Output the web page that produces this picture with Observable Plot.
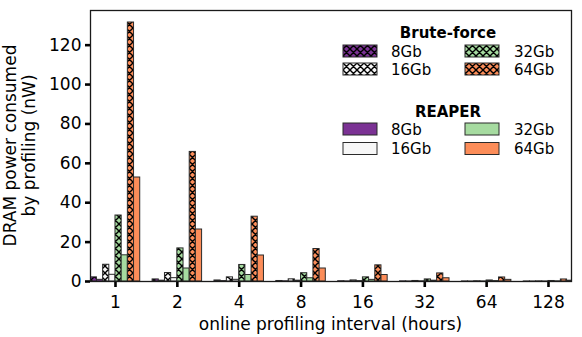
<!DOCTYPE html>
<html><head><meta charset="utf-8">
<script src="https://cdn.jsdelivr.net/npm/d3@7"></script>
<script src="https://cdn.jsdelivr.net/npm/@observablehq/plot@0.6"></script>
<style>
body{margin:0;background:#fff}
#chart{position:relative;width:582px;height:337px}
</style>
</head><body><div id="chart"></div>
<script>
// ---- data ----
const intervals = ["1","2","4","8","16","32","64","128"];      // online profiling interval (hours)
const capacities = ["8Gb","16Gb","32Gb","64Gb"];
const capColors = ["#7b3294","#f7f7f7","#a6dba0","#fc8d59"];
const methods = ["Brute-force","REAPER"];
// DRAM power consumed by profiling (nW)
const bruteForce8  = [2.1, 1.05, 0.52, 0.26, 0.13, 0.07, 0.03, 0.02];
const bruteForce16 = [8.5, 4.3, 2.1, 1.1, 0.55, 0.27, 0.13, 0.07];
const bruteForce32 = [33.5, 16.8, 8.4, 4.2, 2.1, 1.05, 0.52, 0.26];
const bruteForce64 = [131.5, 65.8, 32.9, 16.5, 8.2, 4.1, 2.05, 1.03];
const reaper8  = [0.85, 0.42, 0.21, 0.11, 0.05, 0.03, 0.01, 0.01];
const reaper16 = [3.4, 1.7, 0.85, 0.42, 0.21, 0.11, 0.05, 0.03];
const reaper32 = [13.3, 6.6, 3.3, 1.65, 0.83, 0.41, 0.21, 0.1];
const reaper64 = [52.8, 26.4, 13.2, 6.6, 3.3, 1.65, 0.83, 0.41];
const yTicks = [0, 20, 40, 60, 80, 100, 120];

const series = {
  "Brute-force": [bruteForce8, bruteForce16, bruteForce32, bruteForce64],
  "REAPER": [reaper8, reaper16, reaper32, reaper64]
};

// bars ordered in each group: BF8, R8, BF16, R16, BF32, R32, BF64, R64
const barW = 0.1;
const rows = [];
intervals.forEach((iv, i) => {
  capacities.forEach((cap, c) => {
    methods.forEach((m, k) => {
      const j = c * 2 + k;
      const x1 = i - 4 * barW + j * barW;
      rows.push({
        interval: iv, capacity: cap, method: m,
        x1, x2: x1 + barW, base: 0,
        value: series[m][c][i],
        fill: m === "Brute-force" ? `url(#hatch${c})` : capColors[c]
      });
    });
  });
});

const FONT = "DejaVu Sans";
const chart = Plot.plot({
  width: 582, height: 337,
  marginLeft: 90, marginRight: 11, marginTop: 10, marginBottom: 56,
  style: {fontFamily: FONT, fontSize: "17px", color: "#000", background: "#fff", overflow: "visible"},
  x: {domain: [-0.404, 7.372]},
  y: {domain: [0, 137.6]},
  color: {type: "identity"},
  marks: [
    Plot.rectY(rows, {x1: "x1", x2: "x2", y1: "base", y2: "value", fill: "fill",
      stroke: "#2b2b2b", strokeWidth: 1, clip: true}),
    Plot.axisX({ticks: d3.range(intervals.length), tickFormat: i => intervals[i],
      tickSize: 6, tickPadding: 8, strokeWidth: 2.6, stroke: "#000", label: null}),
    Plot.axisY({ticks: yTicks, tickSize: 5, tickPadding: 4, strokeWidth: 2.6, stroke: "#000", label: null}),
    Plot.frame({stroke: "#1a1a1a", strokeWidth: 1.3})
  ]
});
document.getElementById("chart").appendChild(chart);

// ---- hatch patterns, labels and legend ----
const svg = d3.select(chart);
const defs = svg.insert("defs", ":first-child");
const P = 7;
capColors.forEach((col, c) => {
  const p = defs.append("pattern").attr("id", `hatch${c}`)
    .attr("patternUnits", "userSpaceOnUse").attr("width", P).attr("height", P);
  p.append("rect").attr("width", P).attr("height", P).attr("fill", col);
  p.append("path")
    .attr("d", `M0,0L${P},${P}M${P},0L0,${P}M-1,1L1,-1M${P-1},${P+1}L${P+1},${P-1}M-1,${P-1}L1,${P+1}M${P-1},-1L${P+1},1`)
    .attr("stroke", "#000").attr("stroke-width", 1.4).attr("fill", "none");
});

// axis labels
svg.append("text").attr("x", 330.5).attr("y", 330).attr("text-anchor", "middle")
  .attr("font-family", FONT).attr("font-size", 17).text("online profiling interval (hours)");
const yl = svg.append("text").attr("transform", "translate(0,145.5) rotate(-90)")
  .attr("text-anchor", "middle").attr("font-family", FONT).attr("font-size", 17);
yl.append("tspan").attr("x", 0).attr("y", 16).text("DRAM power consumed");
yl.append("tspan").attr("x", 0).attr("y", 35).text("by profiling (nW)");

// legend
const lg = svg.append("g").attr("font-family", FONT).attr("font-size", 15).attr("text-anchor", "start");
const colX = [343, 465], labX = [391, 514];
const blocks = [
  {title: "Brute-force", titleY: 38, rowsY: [51, 69], hatch: true},
  {title: "REAPER", titleY: 116.5, rowsY: [129, 148.5], hatch: false}
];
blocks.forEach(b => {
  lg.append("text").attr("x", 448).attr("y", b.titleY).attr("text-anchor", "middle")
    .attr("font-weight", "bold").text(b.title);
  capacities.forEach((cap, c) => {
    const col = Math.floor(c / 2), r = c % 2;
    const cy = b.rowsY[r];
    lg.append("rect").attr("x", colX[col]).attr("y", cy - 6).attr("width", 34).attr("height", 12)
      .attr("fill", b.hatch ? `url(#hatch${c})` : capColors[c])
      .attr("stroke", "#2b2b2b").attr("stroke-width", 1);
    lg.append("text").attr("x", labX[col]).attr("y", cy + 5.5).attr("text-anchor", "start").text(cap);
  });
});
</script>
</body></html>
